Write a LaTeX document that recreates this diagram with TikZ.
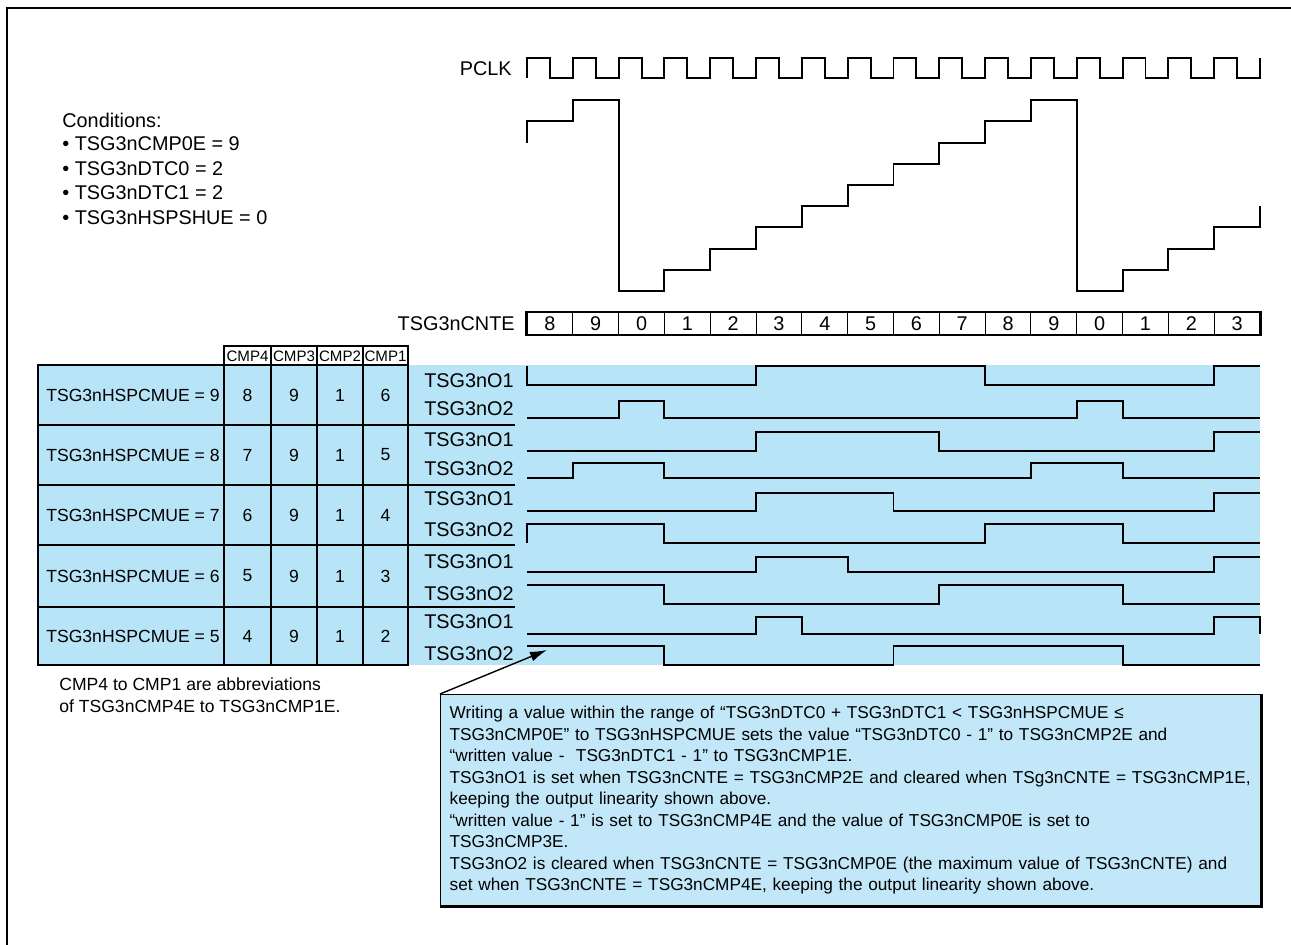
\documentclass[tikz,border=0pt]{standalone}
\usepackage{fontspec}
\setmainfont{Liberation Sans}
\usepackage{tikz}
\usetikzlibrary{arrows.meta}
\definecolor{sigblue}{HTML}{B8E4F8}
\definecolor{noteblue}{HTML}{C2E7F8}

\begin{document}
\begin{tikzpicture}[x=0.02cm,y=-0.02cm,>=Latex,
  wave/.style={line width=1.1pt},
  tblthick/.style={line width=1.2pt},
  tblthin/.style={line width=0.7pt},
  bigtxt/.style={inner sep=0pt,font=\fontsize{11.3}{13.6}\selectfont},
  tbltxt/.style={inner sep=0pt,font=\fontsize{10}{12}\selectfont},
  hdrtxt/.style={inner sep=0pt,font=\fontsize{8.6}{10}\selectfont},
  cntcell/.style={draw,line width=0.6pt,minimum width=0.91625cm,minimum height=0.44cm,
    inner sep=0pt,font=\fontsize{11.3}{13.6}\selectfont},
  notebox/.style={draw,fill=noteblue,line width=0.8pt,anchor=north west,text width=16.04cm,
    minimum height=4.22cm,inner xsep=0.18cm,inner ysep=0.1cm,align=left,
    font=\fontsize{9.8}{12.25}\selectfont}]
  \useasboundingbox (0,0) rectangle (1291,945);
  \draw[line width=1.3pt] (7,945) -- (7,8) -- (1291,8);

  \node[bigtxt,anchor=west] (cond0) at (62,120) {Conditions:};
  \node[bigtxt,anchor=west] (cond1) at (62,144) {• TSG3nCMP0E = 9};
  \node[bigtxt,anchor=west] (cond2) at (62,169) {• TSG3nDTC0 = 2};
  \node[bigtxt,anchor=west] (cond3) at (62,193) {• TSG3nDTC1 = 2};
  \node[bigtxt,anchor=west] (cond4) at (62,218) {• TSG3nHSPSHUE = 0};

  \node[bigtxt,anchor=east] (pclk) at (512,69) {PCLK};
  \draw[wave] (527,78) \foreach \i in {0,...,15} {
      -- ({527+45.8125*\i},58) -- ({527+45.8125*\i+22.9},58)
      -- ({527+45.8125*\i+22.9},78) -- ({527+45.8125*(\i+1)},78)} -- (1260,58);

  \draw[wave] (527,142.6) \foreach \v [count=\i from 0] in {8,9,0,1,2,3,4,5,6,7,8,9,0,1,2,3} {
      -- ({527+45.8125*\i},{291-21.2*\v}) -- ({527+45.8125*(\i+1)},{291-21.2*\v})} -- (1260,206.2);

  \node[bigtxt,anchor=east] (cnte) at (515,324) {TSG3nCNTE};
  \foreach \v [count=\i from 0] in {8,9,0,1,2,3,4,5,6,7,8,9,0,1,2,3}
    \node[cntcell] (cnt\i) at ({527+45.8125*\i+22.9},323.5) {\v};
  \draw[tblthick] (cnt0.north west) rectangle (cnt15.south east);

  \fill[sigblue] (38,365) rectangle (1260,665);
  \draw[tblthick] (224,346) rectangle (408,365);
  \foreach \t/\x in {CMP4/247.5,CMP3/294,CMP2/340,CMP1/385.5}
    \node[hdrtxt] (hdr\t) at (\x,356) {\t};
  \foreach \y in {425,485,545,607}
    \draw[tblthin] (38,\y) -- (515,\y);
  \foreach \x in {271,317,363}
    \draw[tblthin] (\x,346) -- (\x,665);
  \draw[tblthick] (224,346) -- (224,665);
  \draw[tblthick] (38,365) rectangle (408,665);

  \foreach \h/\a/\d/\y/\ya/\yb [count=\r] in {9/8/6/395/381/409,8/7/5/455/440/469,
      7/6/4/515/499/530,6/5/3/576/562/594,5/4/2/636/622/654} {
    \node[tbltxt,anchor=west] (hsp\r) at (46,\y) {TSG3nHSPCMUE = \h};
    \node[tbltxt] (cmpd\r) at (247.5,\y) {\a};
    \node[tbltxt] (cmpc\r) at (294,\y) {9};
    \node[tbltxt] (cmpb\r) at (340,\y) {1};
    \node[tbltxt] (cmpa\r) at (385.5,\y) {\d};
    \node[bigtxt,anchor=east] (oa\r) at (514,\ya) {TSG3nO1};
    \node[bigtxt,anchor=east] (ob\r) at (514,\yb) {TSG3nO2};
  }

  \draw[wave] (527,366) -- (527,385) -- (756.1,385) -- (756.1,366) -- (985.1,366)
    -- (985.1,385) -- (1214.2,385) -- (1214.2,366) -- (1260,366);
  \draw[wave] (527,418) -- (618.6,418) -- (618.6,401) -- (664.4,401) -- (664.4,418)
    -- (1076.8,418) -- (1076.8,401) -- (1122.6,401) -- (1122.6,418) -- (1260,418);
  \draw[wave] (527,451) -- (756.1,451) -- (756.1,432) -- (939.3,432) -- (939.3,451)
    -- (1214.2,451) -- (1214.2,432) -- (1260,432);
  \draw[wave] (527,478) -- (572.8,478) -- (572.8,463) -- (664.4,463) -- (664.4,478)
    -- (1030.9,478) -- (1030.9,463) -- (1122.6,463) -- (1122.6,478) -- (1260,478);
  \draw[wave] (527,511) -- (756.1,511) -- (756.1,493) -- (893.5,493) -- (893.5,511)
    -- (1214.2,511) -- (1214.2,493) -- (1260,493);
  \draw[wave] (527,543) -- (527,524) -- (664.4,524) -- (664.4,543) -- (985.1,543)
    -- (985.1,524) -- (1122.6,524) -- (1122.6,543) -- (1260,543);
  \draw[wave] (527,572) -- (756.1,572) -- (756.1,557) -- (847.7,557) -- (847.7,572)
    -- (1214.2,572) -- (1214.2,557) -- (1260,557);
  \draw[wave] (527,585) -- (664.4,585) -- (664.4,604) -- (939.3,604) -- (939.3,585)
    -- (1122.6,585) -- (1122.6,604) -- (1260,604);
  \draw[wave] (527,634) -- (756.1,634) -- (756.1,617) -- (801.9,617) -- (801.9,634)
    -- (1214.2,634) -- (1214.2,617) -- (1260,617) -- (1260,634);
  \draw[wave] (527,646) -- (664.4,646) -- (664.4,665) -- (893.5,665) -- (893.5,646)
    -- (1122.6,646) -- (1122.6,665) -- (1260,665);

  \node[tbltxt,anchor=west] (abbr1) at (59,684) {CMP4 to CMP1 are abbreviations};
  \node[tbltxt,anchor=west] (abbr2) at (59,706) {of TSG3nCMP4E to TSG3nCMP1E.};

  \node[notebox] (note) at (440,694) {Writing a value within the range of “TSG3nDTC0 + TSG3nDTC1 < TSG3nHSPCMUE ≤\\
    TSG3nCMP0E” to TSG3nHSPCMUE sets the value “TSG3nDTC0 - 1” to TSG3nCMP2E and\\
    “written value -\ \ TSG3nDTC1 - 1” to TSG3nCMP1E.\\
    TSG3nO1 is set when TSG3nCNTE = TSG3nCMP2E and cleared when TSg3nCNTE = TSG3nCMP1E,\\
    keeping the output linearity shown above.\\
    “written value - 1” is set to TSG3nCMP4E and the value of TSG3nCMP0E is set to\\
    TSG3nCMP3E.\\
    TSG3nO2 is cleared when TSG3nCNTE = TSG3nCMP0E (the maximum value of TSG3nCNTE) and\\
    set when TSG3nCNTE = TSG3nCMP4E, keeping the output linearity shown above.};
  \draw[line width=1.6pt] (note.north east) -- (note.south east) -- (note.south west);
  \coordinate (o2tip) at (547,650);
  \draw[-{Latex[length=3.4mm,width=2mm]},line width=0.8pt] (note.north west) -- (o2tip);
\end{tikzpicture}
\end{document}
